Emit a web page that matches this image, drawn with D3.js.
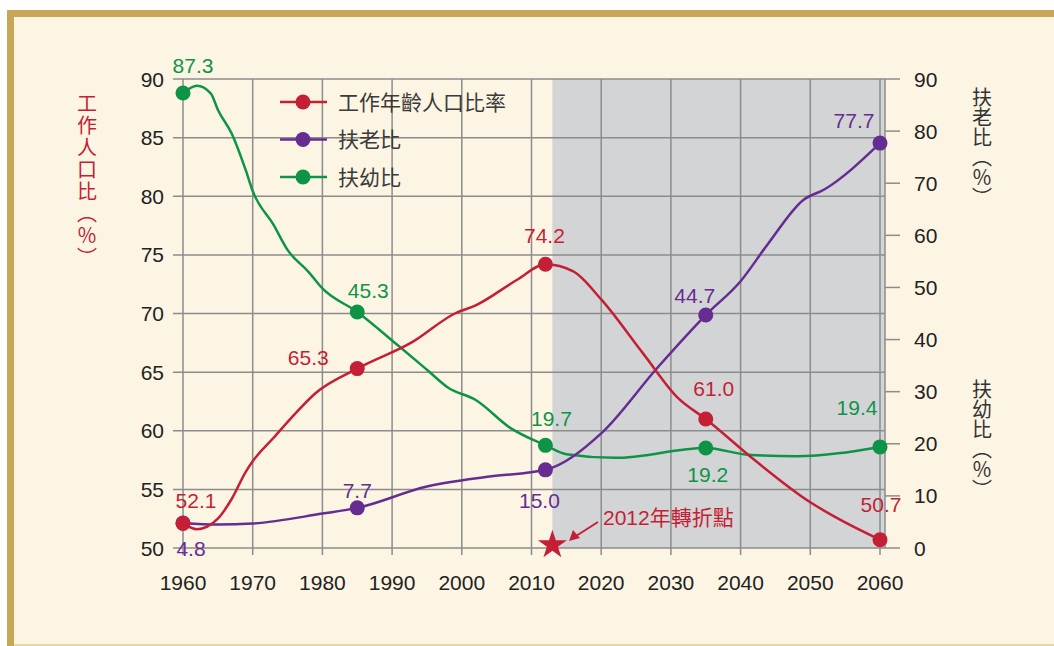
<!DOCTYPE html>
<html>
<head>
<meta charset="utf-8">
<script src="https://cdn.jsdelivr.net/npm/d3@7"></script>
<style>
  body { margin: 0; background: #fff; }
  svg { display: block; font-family: "Liberation Sans", Arial, "Noto Sans CJK TC", sans-serif; }
</style>
</head>
<body>
<div id="chart"></div>
<script>
// marker years and labelled values
var markerYears = [1960, 1985, 2012, 2035, 2060];
var workRatio  = [52.1, 65.3, 74.2, 61.0, 50.7];
var oldRatio   = [4.8, 7.7, 15.0, 44.7, 77.7];
var youngRatio = [87.3, 45.3, 19.7, 19.2, 19.4];

// curve traces
var workYears  = [1960, 1962, 1965, 1967, 1969, 1970, 1973, 1976, 1979, 1985, 1993, 1999, 2002, 2008, 2012, 2016, 2020, 2026, 2031, 2035, 2042, 2050, 2054, 2060];
var workCurve  = [52.1, 51.6, 52.5, 54.2, 56.5, 57.4, 59.4, 61.4, 63.2, 65.3, 67.6, 70.0, 70.7, 72.9, 74.2, 73.6, 71.2, 66.6, 62.8, 61.0, 57.5, 53.9, 52.5, 50.7];
var oldYears   = [1960, 1965, 1970, 1980, 1985, 1995, 2004, 2012, 2020, 2028, 2035, 2040, 2044, 2049, 2052, 2060];
var oldCurve   = [4.8, 4.5, 4.7, 6.6, 7.7, 11.8, 13.7, 15.0, 22.0, 34.5, 44.7, 51.2, 58.5, 66.8, 68.8, 77.7];
var youngYears = [1960, 1962, 1964, 1965, 1967, 1969, 1970, 1973, 1975, 1978, 1980, 1985, 1991, 1995, 1998, 2002, 2007, 2012, 2015, 2022, 2035, 2041, 2048, 2060];
var youngCurve = [87.3, 88.7, 87.2, 84.1, 79.5, 72.5, 68.5, 62.0, 57.2, 53.0, 49.8, 45.3, 38.7, 34.2, 30.8, 28.4, 23.0, 19.7, 18.0, 17.3, 19.2, 17.9, 17.6, 19.4];

var xTicks = d3.range(1960, 2061, 10);
var leftTicks = d3.range(50, 91, 5);
var rightTicks = d3.range(0, 91, 10);
var legendNames = ['工作年齡人口比率', '扶老比', '扶幼比'];
var turnYear = 2013;

var RED = '#c41f35', PURPLE = '#652d92', GREEN = '#0e9447', INK = '#222';

var W = 1054, H = 646;
var svg = d3.select('#chart').append('svg').attr('width', W).attr('height', H);

// frame
svg.append('rect').attr('x', 0).attr('y', 0).attr('width', W).attr('height', H).style('fill', '#fff');
svg.append('rect').attr('x', 7).attr('y', 10).attr('width', W - 7).attr('height', H - 10).style('fill', '#c7a655');
svg.append('rect').attr('x', 14).attr('y', 17).attr('width', W - 14).attr('height', H - 19).style('fill', '#fcf5e4');
svg.append('rect').attr('x', 14).attr('y', H - 2).attr('width', W - 14).attr('height', 2).style('fill', '#e6d9a8');

var x = d3.scaleLinear().domain([1960, 2060]).range([183, 880]);
var yL = d3.scaleLinear().domain([50, 90]).range([548, 79]);
var yR = d3.scaleLinear().domain([0, 90]).range([548, 79]);
var rightEdge = 885;

// shaded future region
svg.append('rect')
  .attr('x', x(turnYear)).attr('y', yL(90))
  .attr('width', rightEdge - x(turnYear)).attr('height', yL(50) - yL(90))
  .style('fill', '#d3d4d6');

// grid
var grid = svg.append('g').style('stroke', '#8c8c8c').style('stroke-width', 1.5);
grid.selectAll('.h').data(leftTicks).enter().append('line')
  .attr('x1', 173).attr('x2', rightEdge)
  .attr('y1', function(d){ return yL(d); }).attr('y2', function(d){ return yL(d); });
grid.selectAll('.v').data(xTicks).enter().append('line')
  .attr('x1', function(d){ return x(d); }).attr('x2', function(d){ return x(d); })
  .attr('y1', yL(90)).attr('y2', yL(50) + 7);
grid.append('line').attr('x1', rightEdge).attr('x2', rightEdge).attr('y1', yL(90)).attr('y2', yL(50));
grid.selectAll('.r').data(rightTicks).enter().append('line')
  .attr('x1', rightEdge).attr('x2', 900)
  .attr('y1', function(d){ return yR(d); }).attr('y2', function(d){ return yR(d); });

// tick labels
var tickFont = 21;
svg.selectAll('.lt').data(leftTicks).enter().append('text')
  .attr('x', 164).attr('y', function(d){ return yL(d) + 7.5; })
  .attr('text-anchor', 'end').style('font-size', tickFont + 'px').style('fill', INK)
  .text(function(d){ return d; });
svg.selectAll('.rt').data(rightTicks).enter().append('text')
  .attr('x', 914).attr('y', function(d){ return yR(d) + 7.5; })
  .attr('text-anchor', 'start').style('font-size', tickFont + 'px').style('fill', INK)
  .text(function(d){ return d; });
svg.selectAll('.xt').data(xTicks).enter().append('text')
  .attr('x', function(d){ return x(d); }).attr('y', 590)
  .attr('text-anchor', 'middle').style('font-size', tickFont + 'px').style('fill', INK)
  .text(function(d){ return d; });

// axis titles (vertical)
function vtitle(txt, cx, top, color, spacing) {
  svg.append('text')
    .attr('x', cx).attr('y', top)
    .style('writing-mode', 'vertical-rl')
    .style('font-family', '"Noto Sans CJK TC", sans-serif')
    .style('font-size', '20px').style('letter-spacing', spacing + 'px')
    .style('fill', color)
    .text(txt);
}
vtitle('工作人口比（％）', 87, 93, RED, 2);
vtitle('扶老比（％）', 982, 87, '#333', 0);
vtitle('扶幼比（％）', 982, 379, '#333', 0);

// lines
var series = [
  { name: legendNames[2], color: GREEN, ys: youngYears, vs: youngCurve, marks: youngRatio, scale: yR,
    off: [[10,-20],[11,-14],[6,-19],[2,34],[-23,-32]] },
  { name: legendNames[1], color: PURPLE, ys: oldYears, vs: oldCurve, marks: oldRatio, scale: yR,
    off: [[8,33],[0,-10],[-6,38],[-11,-12],[-26,-15]] },
  { name: legendNames[0], color: RED, ys: workYears, vs: workCurve, marks: workRatio, scale: yL,
    off: [[13,-15],[-49,-4],[-1,-21],[8,-23],[1,-28]] }
];

series.forEach(function(s){
  var pts = s.ys.map(function(yr, i){ return [yr, s.vs[i]]; });
  var line = d3.line()
    .x(function(d){ return x(d[0]); })
    .y(function(d){ return s.scale(d[1]); })
    .curve(d3.curveMonotoneX);
  svg.append('path').datum(pts).attr('d', line)
    .style('fill', 'none').style('stroke', s.color).style('stroke-width', 2.5);
});

series.forEach(function(s){
  markerYears.forEach(function(yr, i){
    var cx = x(yr), cy = s.scale(s.marks[i]);
    svg.append('circle').attr('cx', cx).attr('cy', cy).attr('r', 7.5).style('fill', s.color);
    svg.append('text')
      .attr('x', cx + s.off[i][0]).attr('y', cy + s.off[i][1])
      .attr('text-anchor', 'middle').style('font-size', '21px').style('fill', s.color)
      .text(s.marks[i].toFixed(1));
  });
});

// legend
var legendColors = [RED, PURPLE, GREEN];
var legend = svg.append('g');
legendNames.forEach(function(n, i){
  var ly = 102 + i * 37.5;
  legend.append('line').attr('x1', 280).attr('x2', 327).attr('y1', ly).attr('y2', ly)
    .style('stroke', legendColors[i]).style('stroke-width', 2.5);
  legend.append('circle').attr('cx', 303).attr('cy', ly).attr('r', 7.5).style('fill', legendColors[i]);
  legend.append('text').attr('x', 338).attr('y', ly + 7.5)
    .style('font-family', '"Noto Sans CJK TC", sans-serif')
    .style('font-size', '21px').style('fill', '#3a3a3a').text(n);
});

// turning point star + annotation
var star = d3.symbol().type(d3.symbolStar).size(260);
svg.append('path').attr('d', star)
  .attr('transform', 'translate(' + x(turnYear) + ',' + (yL(50) - 3) + ')')
  .style('fill', RED);
svg.append('line').attr('x1', 598).attr('y1', 522).attr('x2', 576).attr('y2', 536)
  .style('stroke', RED).style('stroke-width', 2);
svg.append('path').attr('d', 'M569,541 L573,530 L580,538 Z').style('fill', RED);
svg.append('text').attr('x', 603).attr('y', 525)
  .style('font-size', '21px').style('fill', RED)
  .text('2012年轉折點');
</script>
</body>
</html>
